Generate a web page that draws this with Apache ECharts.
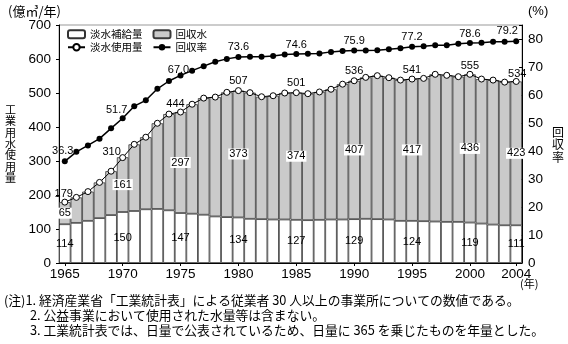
<!DOCTYPE html>
<html><head><meta charset="utf-8">
<script src="https://cdn.jsdelivr.net/npm/echarts@6/dist/echarts.min.js"></script>
<style>html,body{margin:0;padding:0;background:#fff}#c{width:568px;height:344px}</style>
</head><body><div id="c"></div>
<script>
const years = ['1965','1966','1967','1968','1969','1970','1971','1972','1973','1974','1975','1976','1977','1978','1979','1980','1981','1982','1983','1984','1985','1986','1987','1988','1989','1990','1991','1992','1993','1994','1995','1996','1997','1998','1999','2000','2001','2002','2003','2004'];
// 淡水補給量 (億m3/年)
const supply = [114,118,124,132,141,150,153,158,159,155,147,145,142,137,135,134,130,129,128,128,127,126,127,128,128,129,130,129,128,124,124,123,122,121,121,119,116,113,111,111];
// 回収水
const recycled = [65,75,86,105,129,161,196,212,252,283,297,322,343,351,367,373,371,360,364,372,374,372,376,383,398,407,416,422,417,414,417,420,433,431,427,436,425,425,421,423];
// 淡水使用量
const total = [179,193,210,237,270,310,349,370,411,438,444,467,485,488,502,507,501,489,492,500,501,498,503,511,526,536,546,551,545,538,541,543,555,552,548,555,541,538,532,534];
// 回収率 (%)
const rate = [36.3,39.7,42.0,44.4,48.1,51.7,56.0,58.1,62.2,65.0,67.0,68.7,70.3,71.9,72.9,73.6,73.7,73.7,73.9,74.5,74.6,74.7,74.8,75.4,75.7,75.9,75.9,76.0,76.3,76.7,77.2,77.4,77.8,77.8,78.3,78.6,78.7,79.0,79.0,79.2];
const labelYears = ['1965','1970','1975','1980','1985','1990','1995','2000','2004'];
const axisYears = ['1965','1970','1975','1980','1985','1990','1995','2000','2004'];

const FONT = '"Liberation Sans", Arial, sans-serif';
const JFONT = '"Noto Sans CJK JP", sans-serif';

// label offsets (style only)
const totalOff = {'1965':[-1,3],'1970':[-11,5],'1975':[-5,3],'1980':[0,1],'1985':[0,1],'1990':[0,1],'1995':[0,2],'2000':[0,3],'2004':[1,4]};
const rateOff = {'1965':[-2,0],'1970':[-6,2],'1975':[-2,5],'1980':[0,1],'1985':[0,1],'1990':[0,1],'1995':[0,1],'2000':[0,2],'2004':[-9,0]};

function withLabels(arr, labelCfg, offMap, fmt) {
  return arr.map((v, i) => {
    const y = years[i];
    if (labelYears.indexOf(y) < 0) return v;
    const lab = Object.assign({show: true}, labelCfg);
    if (offMap && offMap[y]) lab.offset = offMap[y];
    if (fmt) lab.formatter = fmt;
    return {value: v, label: lab};
  });
}

const chart = echarts.init(document.getElementById('c'), null, {renderer: 'canvas'});
chart.setOption({
  animation: false,
  backgroundColor: '#fff',
  grid: {left: 59, right: 46, top: 25, bottom: 81, show: true, borderColor: '#999', borderWidth: 1},
  legend: [
    {data: ['淡水補給量', '回収水'], left: 67, top: 29, padding: 0, itemWidth: 17, itemHeight: 8, itemGap: 10,
     textStyle: {fontSize: 10.5, color: '#000', fontFamily: JFONT}},
    {data: ['淡水使用量', '回収率'], left: 67, top: 42, padding: 0, itemWidth: 17, itemHeight: 8, itemGap: 10,
     textStyle: {fontSize: 10.5, color: '#000', fontFamily: JFONT}}
  ],
  xAxis: {
    type: 'category', data: years, boundaryGap: true,
    axisLine: {lineStyle: {color: '#000', width: 1}},
    axisTick: {show: true, length: 3, lineStyle: {color: '#000'}, interval: (i, v) => axisYears.indexOf(v) >= 0, alignWithLabel: true},
    axisLabel: {interval: (i, v) => axisYears.indexOf(v) >= 0, color: '#000', fontSize: 13.5, fontFamily: FONT, margin: 4}
  },
  yAxis: [
    {type: 'value', min: 0, max: 700, interval: 100,
     axisLine: {show: true, lineStyle: {color: '#000'}},
     axisTick: {show: true, length: 3, lineStyle: {color: '#000'}},
     splitLine: {show: false},
     axisLabel: {color: '#000', fontSize: 13.5, fontFamily: FONT, margin: 8}},
    {type: 'value', position: 'right', min: 0, max: 85, interval: 10,
     axisLine: {show: true, lineStyle: {color: '#000'}},
     axisTick: {show: true, length: 3, inside: true, lineStyle: {color: '#000'}},
     splitLine: {show: false},
     axisLabel: {color: '#000', fontSize: 13.5, fontFamily: FONT, margin: 6,
       formatter: v => (v % 10 === 0 ? String(v) : '')}}
  ],
  series: [
    {name: '淡水補給量', type: 'bar', stack: 'w', barCategoryGap: '0%',
     itemStyle: {color: '#fff', borderColor: '#333', borderWidth: 0.8},
     data: withLabels(supply, {position: 'inside', color: '#000', fontSize: 11, fontFamily: FONT})},
    {name: '回収水', type: 'bar', stack: 'w', barCategoryGap: '0%',
     itemStyle: {color: '#cacaca', borderColor: '#3a3a3a', borderWidth: 0.8},
     data: withLabels(recycled, {position: 'inside', color: '#000', fontSize: 11, fontFamily: FONT, backgroundColor: '#fff', padding: [0, 1]})},
    {name: '淡水使用量', type: 'line', symbol: 'circle', symbolSize: 6, z: 5,
     itemStyle: {color: '#fff', borderColor: '#000', borderWidth: 1},
     lineStyle: {color: '#000', width: 1},
     data: withLabels(total, {position: 'top', distance: 2, color: '#000', fontSize: 11, fontFamily: FONT}, totalOff)},
    {name: '回収率', type: 'line', yAxisIndex: 1, symbol: 'circle', symbolSize: 6, z: 6,
     itemStyle: {color: '#000'},
     lineStyle: {color: '#000', width: 1.5},
     data: withLabels(rate, {position: 'top', distance: 2, color: '#000', fontSize: 11, fontFamily: FONT}, rateOff, p => Number(p.value).toFixed(1))}
  ],
  graphic: [
    {type: 'text', left: 8, top: 5, style: {text: '(億㎥/年)', font: '13px ' + JFONT, fill: '#000'}},
    {type: 'text', left: 528, top: 5, style: {text: '(%)', font: '13px ' + FONT, fill: '#000'}},
    {type: 'text', left: 5, top: 104, style: {text: '工\n業\n用\n水\n使\n用\n量', font: '11px ' + JFONT, lineHeight: 11.4, fill: '#000'}},
    {type: 'text', left: 552, top: 126, style: {text: '回\n収\n率', font: '12px ' + JFONT, lineHeight: 12.5, fill: '#000'}},
    {type: 'text', left: 520, top: 278, style: {text: '(年)', font: '11px ' + JFONT, fill: '#000'}},
    {type: 'text', left: 4, top: 294, style: {text: '(注)1. 経済産業省「工業統計表」による従業者 30 人以上の事業所についての数値である。', font: '12.8px ' + JFONT, fill: '#000'}},
    {type: 'text', left: 30, top: 309, style: {text: '2. 公益事業において使用された水量等は含まない。', font: '12.8px ' + JFONT, fill: '#000'}},
    {type: 'text', left: 30, top: 324, style: {text: '3. 工業統計表では、日量で公表されているため、日量に 365 を乗じたものを年量とした。', font: '12.8px ' + JFONT, fill: '#000'}}
  ]
});
</script></body></html>
